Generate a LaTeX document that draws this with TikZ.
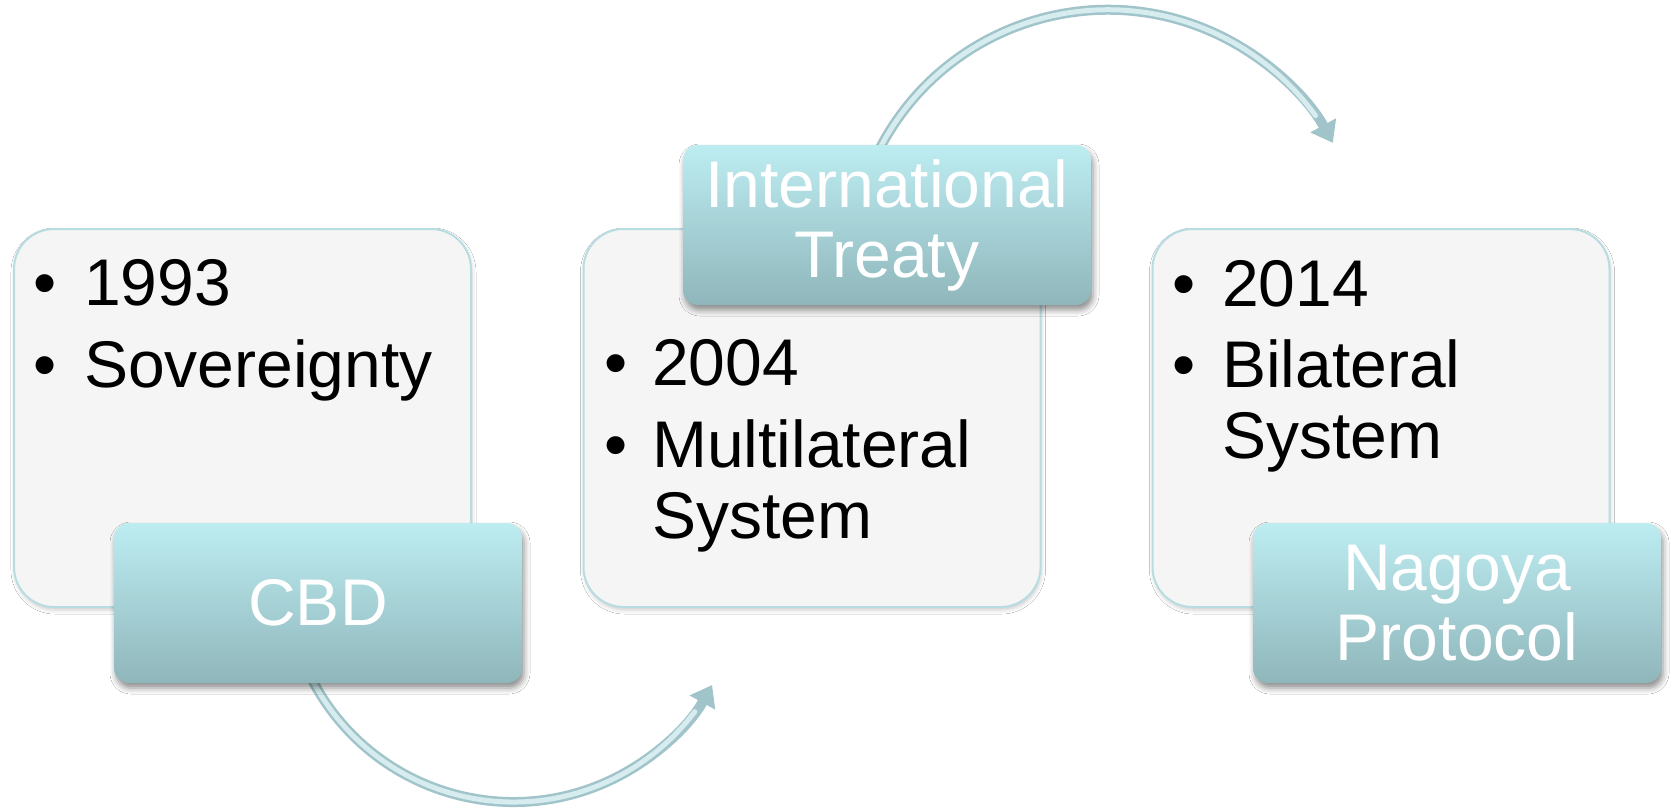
\documentclass[tikz,border=0pt]{standalone}
\usepackage{fontspec}
\setmainfont{Liberation Sans}
\usetikzlibrary{arrows.meta,shadows.blur}
\definecolor{greyfill}{RGB}{245,245,245}
\definecolor{greyedge}{RGB}{183,221,226}
\definecolor{tealtop}{RGB}{189,237,241}
\definecolor{tealbot}{RGB}{143,182,187}
\definecolor{arrowdark}{RGB}{160,196,202}
\definecolor{arrowlight}{RGB}{214,236,239}
\begin{document}
\begin{tikzpicture}[x=1pt,y=1pt,
  greybox/.style={draw=greyedge, line width=2pt, fill=greyfill, rounded corners=40pt,
    minimum width=457pt, minimum height=378pt, inner sep=0pt,
    blur shadow={shadow xshift=1pt, shadow yshift=-3pt, shadow blur radius=4pt, shadow opacity=20}},
  tealbox/.style={rounded corners=15pt, top color=tealtop, bottom color=tealbot,
    minimum width=408pt, minimum height=160pt, inner sep=0pt, align=center,
    text=white, font=\fontsize{66}{70}\selectfont,
    blur shadow={shadow xshift=2pt, shadow yshift=-5pt, shadow blur radius=6pt, shadow opacity=45}},
  bodytext/.style={anchor=base west, inner sep=0pt, font=\fontsize{66}{71}\selectfont, text=black},
  flowarrow/.style={line width=10pt, draw=arrowdark, -{Triangle[length=20pt,width=28pt]}},
  flowshine/.style={line width=5pt, draw=arrowlight, line cap=round}]
\useasboundingbox (0,0) rectangle (1670,-809);
\fill[white] (0,0) rectangle (1670,-809);

% grey content boxes
\node[greybox] (b1) at (242.5,-418) {};
\node[greybox] (b2) at (812,-418) {};
\node[greybox] (b3) at (1381,-418) {};

\node[bodytext] (t1) at (33,-305) {\begin{tabular}[t]{@{}l@{}l@{}}\makebox[51pt][l]{•} & 1993\\[11pt] • & Sovereignty\end{tabular}};
\node[bodytext] (t2) at (604,-385) {\begin{tabular}[t]{@{}l@{}l@{}}\makebox[48pt][l]{•} & 2004\\[11pt] • & Multilateral\\ & System\end{tabular}};
\node[bodytext] (t3) at (1172,-306) {\begin{tabular}[t]{@{}l@{}l@{}}\makebox[50pt][l]{•} & 2014\\[10pt] • & Bilateral\\ & System\end{tabular}};

% curved arrows
\coordinate (a1s) at (309.5,-674.5);
\coordinate (a2s) at (879,-150);
\draw[flowarrow] (a1s) arc[start angle=206, end angle=331, radius=227pt];
\draw[flowshine] (a1s) arc[start angle=206, end angle=323, radius=227pt];
\draw[flowarrow] (a2s) arc[start angle=153, end angle=28.8, radius=256.8pt];
\draw[flowshine] (a2s) arc[start angle=153, end angle=36, radius=256.8pt];

% teal label boxes
\node[tealbox] (cbd) at (318,-603) {CBD};
\node[tealbox] (it) at (887,-225) {International\\Treaty};
\node[tealbox] (np) at (1457,-603) {Nagoya\\Protocol};
\end{tikzpicture}
\end{document}
